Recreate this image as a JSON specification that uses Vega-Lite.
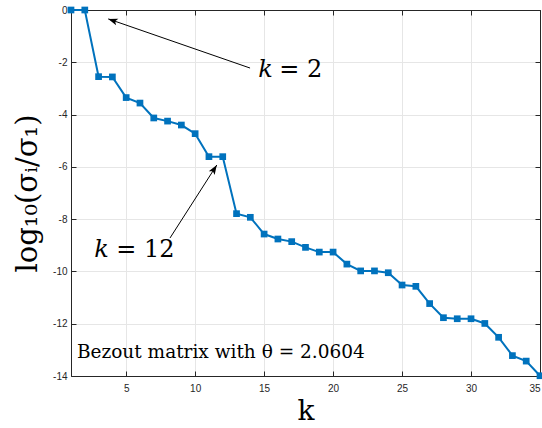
{
  "$schema": "https://vega.github.io/schema/vega-lite/v6.json",
  "width": 469,
  "height": 366,
  "autosize": {"type": "none"},
  "padding": {"left": 71, "top": 10, "right": 2, "bottom": 52},
  "background": "white",
  "config": {
    "view": {"stroke": "#262626", "strokeWidth": 1},
    "axis": {
      "labelFont": "Liberation Sans",
      "labelFontSize": 10,
      "labelColor": "#262626",
      "domainColor": "#262626",
      "tickColor": "#262626",
      "gridColor": "#e6e6e6",
      "titleFont": "DejaVu Serif",
      "titleFontWeight": "normal",
      "titleColor": "#000000"
    }
  },
  "datasets": {
    "series": [
      {"k": 1, "v": 0}, {"k": 2, "v": 0}, {"k": 3, "v": -2.55}, {"k": 4, "v": -2.56},
      {"k": 5, "v": -3.35}, {"k": 6, "v": -3.56}, {"k": 7, "v": -4.13}, {"k": 8, "v": -4.25},
      {"k": 9, "v": -4.4}, {"k": 10, "v": -4.73}, {"k": 11, "v": -5.61}, {"k": 12, "v": -5.61},
      {"k": 13, "v": -7.79}, {"k": 14, "v": -7.93}, {"k": 15, "v": -8.57}, {"k": 16, "v": -8.76},
      {"k": 17, "v": -8.86}, {"k": 18, "v": -9.08}, {"k": 19, "v": -9.26}, {"k": 20, "v": -9.26},
      {"k": 21, "v": -9.72}, {"k": 22, "v": -9.98}, {"k": 23, "v": -9.98}, {"k": 24, "v": -10.05},
      {"k": 25, "v": -10.52}, {"k": 26, "v": -10.57}, {"k": 27, "v": -11.23}, {"k": 28, "v": -11.77},
      {"k": 29, "v": -11.81}, {"k": 30, "v": -11.81}, {"k": 31, "v": -11.99}, {"k": 32, "v": -12.52},
      {"k": 33, "v": -13.22}, {"k": 34, "v": -13.43}, {"k": 35, "v": -13.99}
    ],
    "arrows": [
      {"x1": 13.98, "y1": -2.22, "x2": 3.7, "y2": -0.34},
      {"x1": 8.18, "y1": -8.72, "x2": 11.57, "y2": -5.93}
    ],
    "tip1": [{"x": 3.7, "y": -0.34}],
    "tip2": [{"x": 11.57, "y": -5.93}],
    "kvar": [{"x": 15.1, "y": -2.56, "t": "k"}, {"x": 3.21, "y": -9.45, "t": "k"}],
    "keq": [{"x": 16.1, "y": -2.56, "t": "= 2"}, {"x": 4.28, "y": -9.45, "t": "= 12"}],
    "note": [{"x": 1.43, "y": -13.31, "t": "Bezout matrix with θ = 2.0604"}]
  },
  "layer": [
    {
      "data": {"name": "series"},
      "mark": {"type": "line", "color": "#0072BD", "strokeWidth": 2,
               "point": {"shape": "square", "size": 45, "filled": true, "color": "#0072BD", "opacity": 1}},
      "encoding": {
        "x": {"field": "k", "type": "quantitative",
              "scale": {"domain": [1, 35], "nice": false, "zero": false},
              "axis": {"orient": "bottom", "values": [5, 10, 15, 20, 25, 30, 35], "grid": true,
                       "tickSize": -5, "labelPadding": 12, "title": "k", "titleFontSize": 28, "titlePadding": 4}},
        "y": {"field": "v", "type": "quantitative",
              "scale": {"domain": [-14, 0], "nice": false, "zero": false},
              "axis": {"orient": "left", "values": [0, -2, -4, -6, -8, -10, -12, -14], "grid": true,
                       "tickSize": -5, "labelPadding": 9, "labelExpr": "replace(datum.label, '−', '-')",
                       "title": "log₁₀(σᵢ/σ₁)", "titleFontSize": 29, "titlePadding": 10}}
      }
    },
    {
      "data": {"name": "series"},
      "mark": {"type": "point", "opacity": 0},
      "encoding": {
        "x": {"field": "k", "type": "quantitative",
              "axis": {"orient": "top", "values": [5, 10, 15, 20, 25, 30, 35], "labels": false, "grid": false,
                       "tickSize": -5, "title": null}},
        "y": {"field": "v", "type": "quantitative",
              "axis": {"orient": "right", "values": [0, -2, -4, -6, -8, -10, -12, -14], "labels": false, "grid": false,
                       "tickSize": -5, "title": null}}
      }
    },
    {
      "data": {"name": "arrows"},
      "mark": {"type": "rule", "color": "#000000", "strokeWidth": 1},
      "encoding": {
        "x": {"field": "x1", "type": "quantitative", "axis": null},
        "y": {"field": "y1", "type": "quantitative", "axis": null},
        "x2": {"field": "x2"},
        "y2": {"field": "y2"}
      }
    },
    {
      "data": {"name": "tip1"},
      "mark": {"type": "point", "shape": "M0,0L0.55,1.5L0,1.15L-0.55,1.5Z", "size": 160, "filled": true,
               "color": "#000000", "opacity": 1, "angle": 289},
      "encoding": {
        "x": {"field": "x", "type": "quantitative", "axis": null},
        "y": {"field": "y", "type": "quantitative", "axis": null}
      }
    },
    {
      "data": {"name": "tip2"},
      "mark": {"type": "point", "shape": "M0,0L0.55,1.5L0,1.15L-0.55,1.5Z", "size": 160, "filled": true,
               "color": "#000000", "opacity": 1, "angle": 32.6},
      "encoding": {
        "x": {"field": "x", "type": "quantitative", "axis": null},
        "y": {"field": "y", "type": "quantitative", "axis": null}
      }
    },
    {
      "data": {"name": "kvar"},
      "mark": {"type": "text", "font": "DejaVu Serif", "fontStyle": "italic", "fontSize": 24,
               "align": "center", "baseline": "alphabetic", "color": "#000000"},
      "encoding": {
        "x": {"field": "x", "type": "quantitative", "axis": null},
        "y": {"field": "y", "type": "quantitative", "axis": null},
        "text": {"field": "t"}
      }
    },
    {
      "data": {"name": "keq"},
      "mark": {"type": "text", "font": "DejaVu Serif", "fontSize": 24,
               "align": "left", "baseline": "alphabetic", "color": "#000000"},
      "encoding": {
        "x": {"field": "x", "type": "quantitative", "axis": null},
        "y": {"field": "y", "type": "quantitative", "axis": null},
        "text": {"field": "t"}
      }
    },
    {
      "data": {"name": "note"},
      "mark": {"type": "text", "font": "DejaVu Serif", "fontSize": 18.5,
               "align": "left", "baseline": "alphabetic", "color": "#000000"},
      "encoding": {
        "x": {"field": "x", "type": "quantitative", "axis": null},
        "y": {"field": "y", "type": "quantitative", "axis": null},
        "text": {"field": "t"}
      }
    }
  ],
  "resolve": {"axis": {"x": "independent", "y": "independent"}}
}
